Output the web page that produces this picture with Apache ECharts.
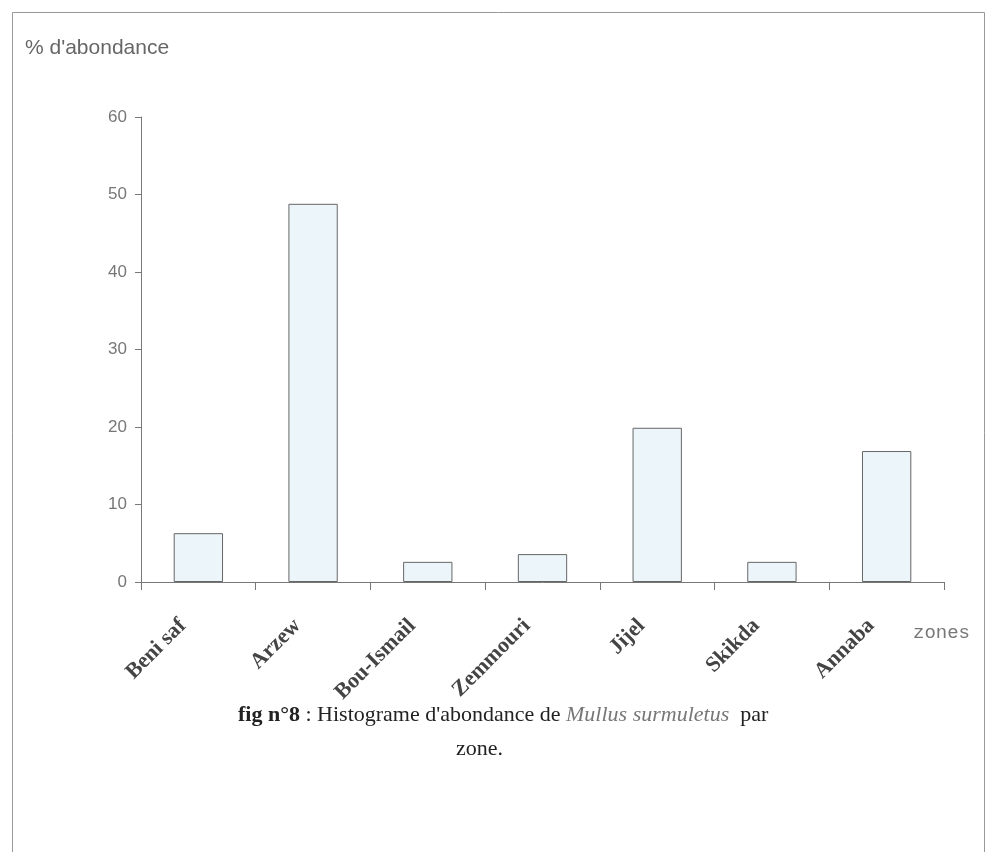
<!DOCTYPE html>
<html>
<head>
<meta charset="utf-8">
<script src="https://cdn.jsdelivr.net/npm/echarts@6/dist/echarts.min.js"></script>
<style>
html,body{margin:0;padding:0;background:#fff;}
#c{width:987px;height:852px;}
</style>
</head>
<body>
<div id="c"></div>
<script>
const zones = ['Beni saf', 'Arzew', 'Bou-Ismail', 'Zemmouri', 'Jijel', 'Skikda', 'Annaba'];
const abondance = [6.3, 48.8, 2.6, 3.6, 19.9, 2.6, 16.9];
const yTicks = { min: 0, max: 60, interval: 10 };
const yTitle = "% d'abondance";
const xTitle = 'zones';

const capRich = {
  b: { fontFamily: 'Liberation Serif', fontWeight: 'bold', fontSize: 22, fill: '#222' },
  r: { fontFamily: 'Liberation Serif', fontWeight: 'normal', fontSize: 22, fill: '#222' },
  i: { fontFamily: 'Liberation Serif', fontStyle: 'italic', fontWeight: 'normal', fontSize: 22, fill: '#777' }
};

const chart = echarts.init(document.getElementById('c'), null, { renderer: 'canvas' });
chart.setOption({
  backgroundColor: '#ffffff',
  animation: false,
  grid: { left: 141, right: 43, top: 117, bottom: 270, containLabel: false },
  graphic: [
    { type: 'rect', shape: { x: 12.5, y: 12.5, width: 972, height: 860 }, style: { fill: null, stroke: '#999', lineWidth: 1 } },
    { type: 'text', left: 25, top: 38, style: { text: yTitle, font: '21px "Liberation Sans"', fill: '#666' } },
    { type: 'text', left: 913, top: 623, style: { text: xTitle, font: '19px "Liberation Mono"', fill: '#777' } },
    { type: 'text', left: 238, top: 704, style: {
        text: '{b|fig n°8}{r| : Histograme d\'abondance de }{i|Mullus surmuletus}{r|  par}',
        rich: capRich } },
    { type: 'text', left: 456, top: 738, style: { text: '{r|zone.}', rich: capRich } }
  ],
  xAxis: {
    type: 'category',
    data: zones,
    boundaryGap: true,
    axisLine: { lineStyle: { color: '#777', width: 1 } },
    axisTick: { show: true, interval: 0, length: 8, lineStyle: { color: '#777' } },
    axisLabel: {
      interval: 0, rotate: 45, margin: 25,
      padding: [0, 22, 36, 0],
      fontFamily: 'Liberation Serif', fontWeight: 'bold', fontSize: 22, color: '#444'
    }
  },
  yAxis: {
    type: 'value',
    min: yTicks.min, max: yTicks.max, interval: yTicks.interval,
    axisLine: { show: true, lineStyle: { color: '#777', width: 1 } },
    axisTick: { show: true, length: 6, lineStyle: { color: '#777' } },
    splitLine: { show: false },
    axisLabel: { margin: 14, fontFamily: 'Liberation Sans', fontSize: 17, color: '#777' }
  },
  series: [{
    type: 'bar',
    data: abondance,
    barWidth: '43%',
    itemStyle: { color: '#ecf5f9', borderColor: '#666', borderWidth: 1 }
  }]
});
</script>
</body>
</html>
